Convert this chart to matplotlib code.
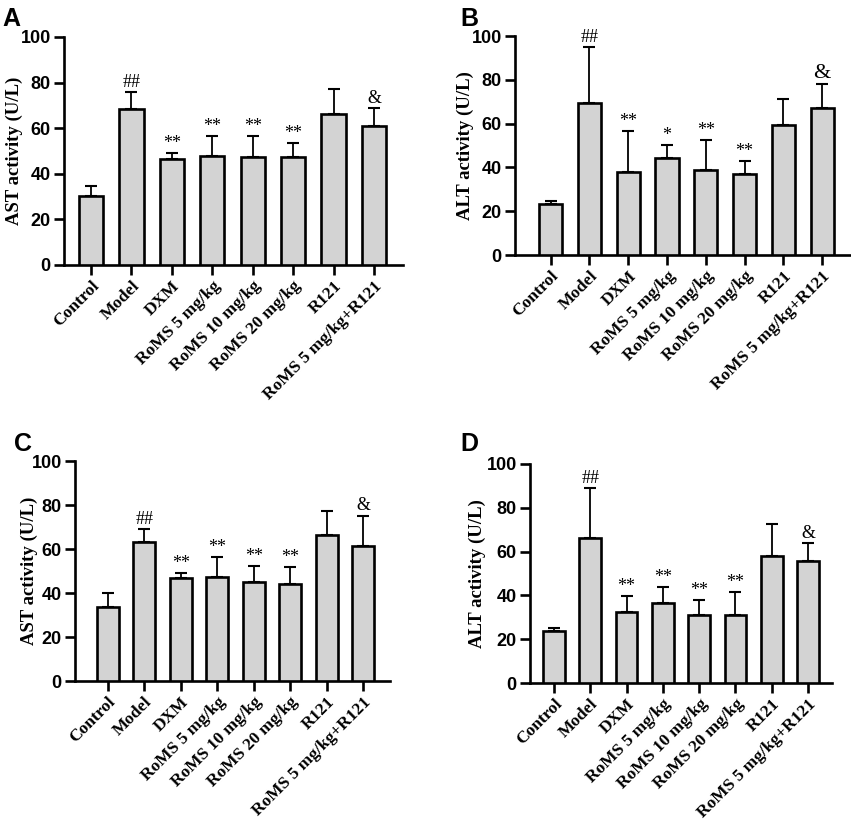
#!/usr/bin/env python3
"""
AST / ALT activity bar charts, four panels (A-D)
"""

import matplotlib
matplotlib.use('Agg')
import matplotlib.pyplot as plt

groups = ['Control', 'Model', 'DXM', 'RoMS 5 mg/kg', 'RoMS 10 mg/kg',
          'RoMS 20 mg/kg', 'R121', 'RoMS 5 mg/kg+R121']

# means and upper error (SD)
ast_a = [30.2, 68.6, 46.7, 48.0, 47.4, 47.2, 66.4, 61.0]
ast_a_sd = [4.5, 7.2, 2.5, 8.5, 9.1, 6.1, 10.6, 8.0]
alt_b = [23.3, 69.3, 38.0, 44.3, 38.8, 37.1, 59.2, 67.3]
alt_b_sd = [1.4, 25.5, 18.8, 5.9, 13.6, 5.8, 12.2, 10.9]
ast_c = [33.7, 63.2, 46.7, 47.5, 45.1, 44.0, 66.6, 61.3]
ast_c_sd = [6.4, 5.8, 2.5, 8.8, 7.1, 7.9, 10.7, 13.9]
alt_d = [23.8, 66.0, 32.2, 36.7, 30.9, 30.9, 57.9, 55.6]
alt_d_sd = [1.2, 22.9, 7.4, 7.3, 6.9, 10.6, 14.5, 8.4]

marks_a = ['', '##', '**', '**', '**', '**', '', '&']
marks_b = ['', '##', '**', '*', '**', '**', '', '&']
marks_c = ['', '##', '**', '**', '**', '**', '', '&']
marks_d = ['', '##', '**', '**', '**', '**', '', '&']

SERIF = 'Liberation Serif'
SANS = 'Liberation Sans'

fig = plt.figure(figsize=(8.51, 8.24), dpi=100)

# panel: (rect, letter, letter pos, ylabel, means, sd, marks, xlim, ylabel x)
panels = [
    ([0.0752, 0.6784, 0.3984, 0.2767], 'A', (0.003, 0.992), 'AST activity (U/L)',
     ast_a, ast_a_sd, marks_a, (-0.67, 7.72), -0.145),
    ([0.6052, 0.6905, 0.3937, 0.2658], 'B', (0.541, 0.992), 'ALT activity (U/L)',
     alt_b, alt_b_sd, marks_b, (-0.92, 7.72), -0.149),
    ([0.0881, 0.1735, 0.3702, 0.2670], 'C', (0.016, 0.476), 'AST activity (U/L)',
     ast_c, ast_c_sd, marks_c, (-0.90, 7.74), -0.146),
    ([0.6228, 0.1711, 0.3549, 0.2658], 'D', (0.541, 0.476), 'ALT activity (U/L)',
     alt_d, alt_d_sd, marks_d, (-0.66, 7.66), -0.175),
]

for rect, letter, lpos, ylabel, vals, sd, marks, xlim, ylx in panels:
    ax = fig.add_axes(rect)
    x = list(range(len(groups)))
    ax.bar(x, vals, width=0.6, color='#d3d3d3', edgecolor='black',
           linewidth=1.9, zorder=3)
    ax.errorbar(x, vals, yerr=[[0] * len(sd), sd], fmt='none', ecolor='black',
                elinewidth=1.3, capsize=4.5, capthick=1.5, zorder=2)
    for xi, v, s, m in zip(x, vals, sd, marks):
        if m:
            fs = 16 if (m == '&' and letter == 'B') else 13
            ax.text(xi, v + s + 0.5, m, ha='center', va='bottom',
                    family=SERIF, fontsize=fs)

    ax.set_xlim(*xlim)
    ax.set_ylim(0, 100)
    ax.set_yticks([0, 20, 40, 60, 80, 100])
    ax.set_xticks(x)
    ax.set_xticklabels(groups, rotation=45, ha='right', rotation_mode='anchor',
                       family=SERIF, fontweight='bold', fontsize=12.5)
    for lab in ax.get_yticklabels():
        lab.set_family(SANS)
        lab.set_fontweight('bold')
        lab.set_fontsize(13)
    ax.spines['top'].set_visible(False)
    ax.spines['right'].set_visible(False)
    ax.spines['left'].set_linewidth(1.9)
    ax.spines['bottom'].set_linewidth(1.9)
    ax.tick_params(axis='both', direction='out', length=7.5, width=1.9, pad=2)
    ax.set_ylabel(ylabel, family=SERIF, fontweight='bold', fontsize=13.5)
    ax.yaxis.set_label_coords(ylx, 0.5)
    ax.yaxis.label.set_va('center')

    fig.text(lpos[0], lpos[1], letter, family=SANS, fontweight='bold',
             fontsize=18, ha='left', va='top')

fig.savefig('out.png', dpi=100)
